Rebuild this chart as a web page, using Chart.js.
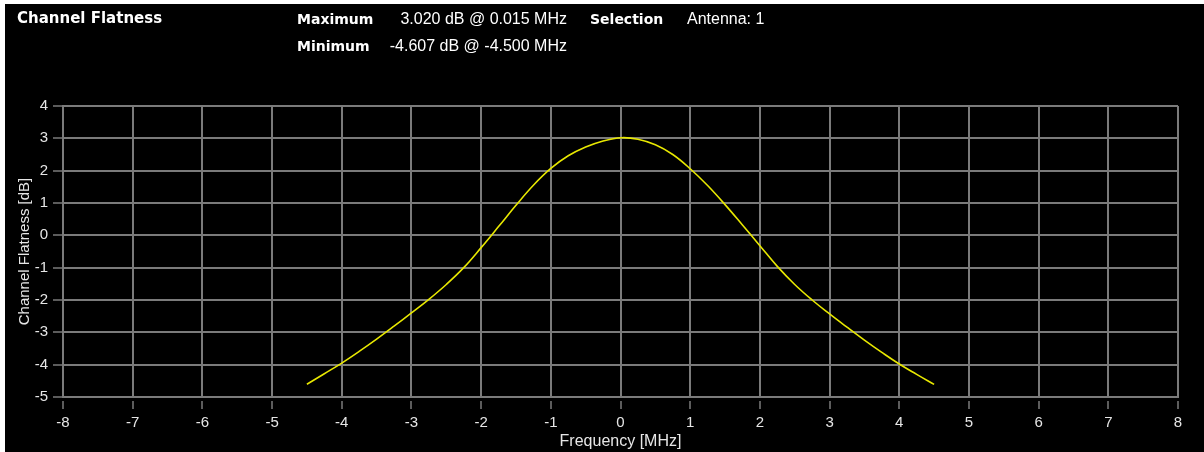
<!DOCTYPE html>
<html>
<head>
<meta charset="utf-8">
<script src="https://cdn.jsdelivr.net/npm/chart.js@4.4.1/dist/chart.umd.min.js"></script>
<style>
    html, body { margin: 0; padding: 0; background: #fff; overflow: hidden; }
    #panel {
        position: absolute; left: 5px; top: 4px;
        width: 1199px; height: 448px; background: #000;
    }
    #cf-chart { position: absolute; left: 0; top: 0; }
    .hdr {
        position: absolute; color: #fff; white-space: nowrap;
        font-family: "Liberation Sans", Arial, sans-serif; font-size: 16px; line-height: 18px;
    }
    .hdr.b { font-family: "DejaVu Sans", sans-serif; font-weight: bold; font-size: 14px; }
    .hdr.t { font-size: 15px; }
    .hdr.r { text-align: right; }
</style>
</head>
<body>
<div id="panel">
    <canvas id="cf-chart" width="1199" height="448"></canvas>
</div>
<script>
// ============================================================
// Channel Flatness trace (yellow) vs frequency
// ============================================================

const FREQ_MHZ = [
    -4.5, -4.25, -4.0, -3.75, -3.5, -3.25, -3.0, -2.75, -2.5, -2.25,
    -2.0, -1.75, -1.5, -1.25, -1.0, -0.75, -0.5, -0.25, 0.015, 0.25,
    0.5, 0.75, 1.0, 1.25, 1.5, 1.75, 2.0, 2.25, 2.5, 2.75,
    3.0, 3.25, 3.5, 3.75, 4.0, 4.25, 4.5
];
const FLATNESS_DB = [
    -4.607, -4.28, -3.95, -3.59, -3.21, -2.81, -2.40, -1.98, -1.52, -1.00,
    -0.38, 0.27, 0.93, 1.55, 2.07, 2.46, 2.73, 2.92, 3.020, 2.97,
    2.80, 2.50, 2.06, 1.54, 0.95, 0.32, -0.32, -0.96, -1.52, -2.00,
    -2.43, -2.84, -3.24, -3.62, -3.98, -4.30, -4.61
];

const X_MIN = -8, X_MAX = 8;
const Y_MIN = -5, Y_MAX = 4;

const TITLE = "Channel Flatness";
const MAX_LABEL = "Maximum", MAX_TEXT = "3.020 dB @ 0.015 MHz";
const MIN_LABEL = "Minimum", MIN_TEXT = "-4.607 dB @ -4.500 MHz";
const SEL_LABEL = "Selection", SEL_TEXT = "Antenna: 1";
const X_TITLE = "Frequency [MHz]";
const Y_TITLE = "Channel Flatness [dB]";

const GRID = "#7b7b7b";
const TXT = "#e6e6e6";
const TRACE = "#e8e800";

// header texts (panel coords, panel sits at 5/4 on the page)
function addHeader(text, cls, left, top, right) {
    const d = document.createElement("div");
    d.className = "hdr " + cls;
    d.textContent = text;
    d.style.top = top + "px";
    if (right != null) { d.style.right = right + "px"; } else { d.style.left = left + "px"; }
    document.getElementById("panel").appendChild(d);
}
addHeader(TITLE, "b t", 12, 5);
addHeader(MAX_LABEL, "b", 292, 6);
addHeader(MAX_TEXT, "r", null, 6, 1199 - 562);
addHeader(SEL_LABEL, "b", 585, 6);
addHeader(SEL_TEXT, "", 682, 6);
addHeader(MIN_LABEL, "b", 292, 33);
addHeader(MIN_TEXT, "r", null, 33, 1199 - 562);

const points = FREQ_MHZ.map((f, i) => ({ x: f, y: FLATNESS_DB[i] }));

const tickFont = { family: "'Liberation Sans', Arial, sans-serif", size: 15 };

new Chart(document.getElementById("cf-chart").getContext("2d"), {
    type: "line",
    data: {
        datasets: [{
            data: points,
            borderColor: TRACE,
            borderWidth: 1.6,
            pointRadius: 0,
            tension: 0.4,
            fill: false
        }]
    },
    options: {
        responsive: false,
        animation: false,
        events: [],
        layout: { padding: { left: 0, top: 102, right: 26, bottom: 0 } },
        plugins: { legend: { display: false }, tooltip: { enabled: false } },
        scales: {
            x: {
                type: "linear",
                min: X_MIN, max: X_MAX,
                afterFit: s => { s.height = 55; },
                ticks: { stepSize: 1, color: TXT, font: tickFont, padding: 5, maxRotation: 0 },
                grid: {
                    color: GRID, lineWidth: 2,
                    tickLength: 12, tickColor: GRID, tickWidth: 1.5,
                    tickBorderDash: [0, 3, 9, 100]
                },
                border: { color: GRID, width: 2 },
                title: {
                    display: true, text: X_TITLE, color: TXT,
                    font: { family: tickFont.family, size: 16 }, padding: { top: 0, bottom: 1 }
                }
            },
            y: {
                min: Y_MIN, max: Y_MAX,
                afterFit: s => { s.width = 58; },
                ticks: { stepSize: 1, color: TXT, font: tickFont, padding: 5 },
                grid: { color: GRID, lineWidth: 2, tickLength: 10, tickColor: GRID, tickWidth: 1.5 },
                border: { color: GRID, width: 2 },
                title: { display: true, text: Y_TITLE, color: TXT, font: tickFont, padding: { top: 11, bottom: 0 } }
            }
        }
    }
});
</script>
</body>
</html>
